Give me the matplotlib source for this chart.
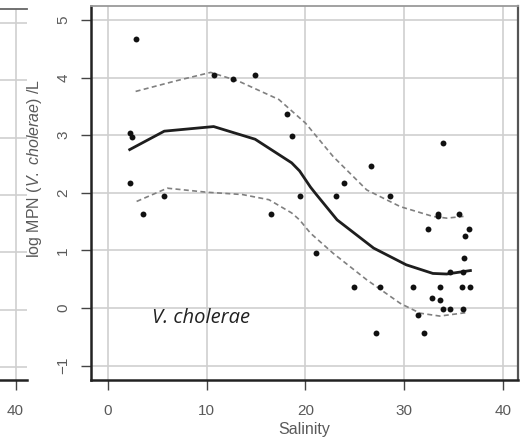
import matplotlib
matplotlib.use("Agg")
import matplotlib.pyplot as plt

# Observations: salinity vs log MPN of V. cholerae per litre
salinity = [2.8, 10.7, 12.7, 14.9, 18.1, 18.6, 2.2, 2.4, 2.2, 5.7, 3.5, 16.5,
            19.4, 33.9, 26.6, 23.9, 23.1, 28.6, 33.4, 33.4, 35.5, 32.4, 36.6,
            36.2, 21.1, 36.1, 34.6, 35.9, 24.9, 27.5, 30.9, 33.6, 35.8, 36.7,
            32.8, 33.6, 33.9, 34.6, 35.9, 31.4, 27.1, 32.0]
log_mpn = [4.67, 4.05, 3.98, 4.05, 3.37, 2.98, 3.04, 2.97, 2.17, 1.95, 1.63, 1.63,
           1.95, 2.87, 2.47, 2.17, 1.95, 1.95, 1.63, 1.59, 1.63, 1.38, 1.38,
           1.25, 0.96, 0.87, 0.63, 0.63, 0.36, 0.36, 0.36, 0.36, 0.36, 0.36,
           0.18, 0.14, -0.01, -0.01, -0.01, -0.13, -0.44, -0.44]

# Smoothed fit and its confidence band
fit_x = [2.2, 5.7, 10.7, 14.9, 18.6, 19.4, 20.5, 21.1, 23.2, 26.9, 30.2, 32.9, 34.3, 36.7]
fit_y = [2.75, 3.07, 3.15, 2.93, 2.52, 2.38, 2.10, 1.97, 1.53, 1.04, 0.75, 0.60, 0.59, 0.65]
upper_x = [2.8, 6.8, 10.4, 13.2, 17.3, 20.0, 22.8, 26.2, 29.6, 32.9, 34.3, 36.0]
upper_y = [3.76, 3.94, 4.09, 3.94, 3.62, 3.21, 2.63, 2.05, 1.76, 1.59, 1.56, 1.59]
lower_x = [2.9, 6.0, 10.0, 13.6, 16.3, 18.6, 19.4, 20.5, 22.8, 26.2, 29.6, 31.6, 33.6, 36.3]
lower_y = [1.85, 2.08, 2.01, 1.97, 1.88, 1.65, 1.53, 1.30, 0.95, 0.49, 0.08, -0.09, -0.14, -0.08]

x_ticks = [0, 10, 20, 30, 40]
y_ticks = [-1, 0, 1, 2, 3, 4, 5]

plt.rcParams['font.family'] = ['Liberation Sans', 'DejaVu Sans']
plt.rcParams['mathtext.fontset'] = 'custom'
plt.rcParams['mathtext.rm'] = 'Liberation Sans'
plt.rcParams['mathtext.it'] = 'Liberation Sans:italic'

W, H = 527, 448
fig = plt.figure(figsize=(W / 100, H / 100), dpi=100)

GRID = '#cfcfcf'
TICKC = '#5a5a5a'


def px_axes(x0, y_top, x1, y_bottom):
    return fig.add_axes([x0 / W, (H - y_bottom) / H, (x1 - x0) / W, (y_bottom - y_top) / H])


def style(ax):
    ax.grid(True, color=GRID, linewidth=1.2)
    ax.set_axisbelow(True)
    ax.tick_params(direction='out', length=7, width=1.0, color='#444444',
                   labelcolor=TICKC, labelsize=11)
    ax.tick_params(axis='x', pad=10)
    ax.tick_params(axis='y', pad=8)
    ax.spines['left'].set_color('#222222')
    ax.spines['left'].set_linewidth(1.8)
    ax.spines['bottom'].set_color('#222222')
    ax.spines['bottom'].set_linewidth(1.8)
    ax.spines['top'].set_color('#9a9a9a')
    ax.spines['top'].set_linewidth(1.3)
    ax.spines['right'].set_color('#555555')
    ax.spines['right'].set_linewidth(1.6)


# Neighbouring panel, only its right edge falls inside the figure
axl = px_axes(-300, 9, 27, 380)
style(axl)
axl.set_xlim(8.05, 41.16)
axl.set_ylim(-1.227, 5.244)
axl.set_xticks([40])
axl.set_yticks(y_ticks)
axl.tick_params(axis='y', left=False, labelleft=False)
axl.spines['right'].set_visible(False)
axl.spines['left'].set_visible(False)
axl.spines['top'].set_color('#666666')

# Main panel
ax = px_axes(91, 6, 518, 380)
style(ax)
ax.set_xlim(-1.72, 41.52)
ax.set_ylim(-1.25, 5.243)
ax.set_xticks(x_ticks)
ax.set_yticks(y_ticks)
for lab in ax.get_yticklabels():
    lab.set_rotation(90)
    lab.set_verticalalignment('center')

ax.plot(upper_x, upper_y, color='#808080', linewidth=1.2, linestyle=(0, (3, 2)))
ax.plot(lower_x, lower_y, color='#808080', linewidth=1.2, linestyle=(0, (3, 2)))
ax.plot(fit_x, fit_y, color='#1e1e1e', linewidth=2.0)
ax.scatter(salinity, log_mpn, s=18, color='#111111', zorder=3, linewidths=0)

ax.set_xlabel('Salinity', fontsize=11.5, color=TICKC, labelpad=3)
fig.text(35 / W, 1 - 168 / H, r'log MPN ($\mathit{V.\ cholerae}$) /L',
         fontsize=11.5, color=TICKC, rotation=90, ha='center', va='center')

ax.text(4.5, -0.17, 'V. cholerae', fontsize=14.5, style='italic',
        family=['Open Sans', 'DejaVu Sans'], color='#222222',
        ha='left', va='center')

fig.savefig('out.png', dpi=100)
